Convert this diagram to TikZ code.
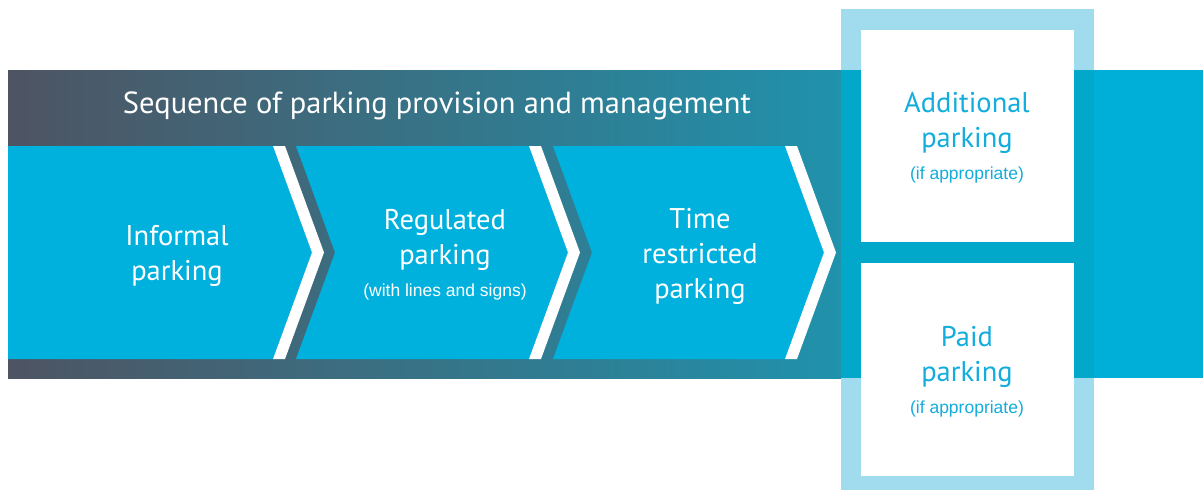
\documentclass[tikz,border=0pt]{standalone}
\usepackage{fontspec}
\setmainfont{PT Sans}
\newfontfamily\notefont{Liberation Sans}
\usetikzlibrary{positioning}
\definecolor{bandgrey}{HTML}{4E5462}
\definecolor{bandteal}{HTML}{2092AC}
\definecolor{chevblue}{HTML}{00B1DD}
\definecolor{framelight}{HTML}{A0DBEE}
\definecolor{framedark}{HTML}{02A8CA}
\definecolor{bandcyan}{HTML}{00AFD7}
\definecolor{optblue}{HTML}{12ADDC}

\begin{document}
\begin{tikzpicture}[x=1pt, y=-1pt,
    lbl/.style={align=center, inner sep=0pt, text=white, font=\fontsize{28.5}{35}\selectfont},
    opt/.style={lbl, text=optblue},
    note/.style={inner sep=0pt, text=white, font=\notefont\fontsize{17.5}{20}\selectfont},
    optnote/.style={note, text=optblue}]
  \useasboundingbox (0,0) rectangle (1203,490);

  % band and frame
  \shade[left color=bandgrey, right color=bandteal] (8,70) rectangle (841,378);
  \fill[framelight] (841,9) rectangle (1094,490);
  \fill[framedark] (841,70) rectangle (1094,378);
  \fill[bandcyan] (1094,70) rectangle (1203,378);
  \fill[white] (861,30) rectangle (1074,242);
  \fill[white] (861,263) rectangle (1074,476);

  % chevrons
  \foreach \a/\b/\d in {8/273/0, 296/529/39, 553/785/39}{
    \fill[chevblue] (\a,146) -- (\b,146) -- ({\b+39},252.5) -- (\b,359) -- (\a,359) -- ({\a+\d},252.5) -- cycle;
    \fill[white] (\b,146) -- ({\b+12},146) -- ({\b+51},252.5) -- ({\b+12},359) -- (\b,359) -- ({\b+39},252.5) -- cycle;
  }

  \node[lbl, font=\fontsize{30.5}{35}\selectfont] (title) at (437,106) {Sequence of parking provision and management};

  \node[lbl] (informal) at (177,256) {Informal\\parking};
  \node[lbl] (regulated) at (445,240) {Regulated\\parking};
  \node[note, below=13pt of regulated] (regnote) {(with lines and signs)};
  \node[lbl] (timed) at (700,256) {Time\\restricted\\parking};

  \node[opt] (additional) at (967,123) {Additional\\parking};
  \node[optnote, below=13pt of additional] (addnote) {(if appropriate)};
  \node[opt] (paid) at (967,357) {Paid\\parking};
  \node[optnote, below=13pt of paid] (paidnote) {(if appropriate)};
\end{tikzpicture}
\end{document}
